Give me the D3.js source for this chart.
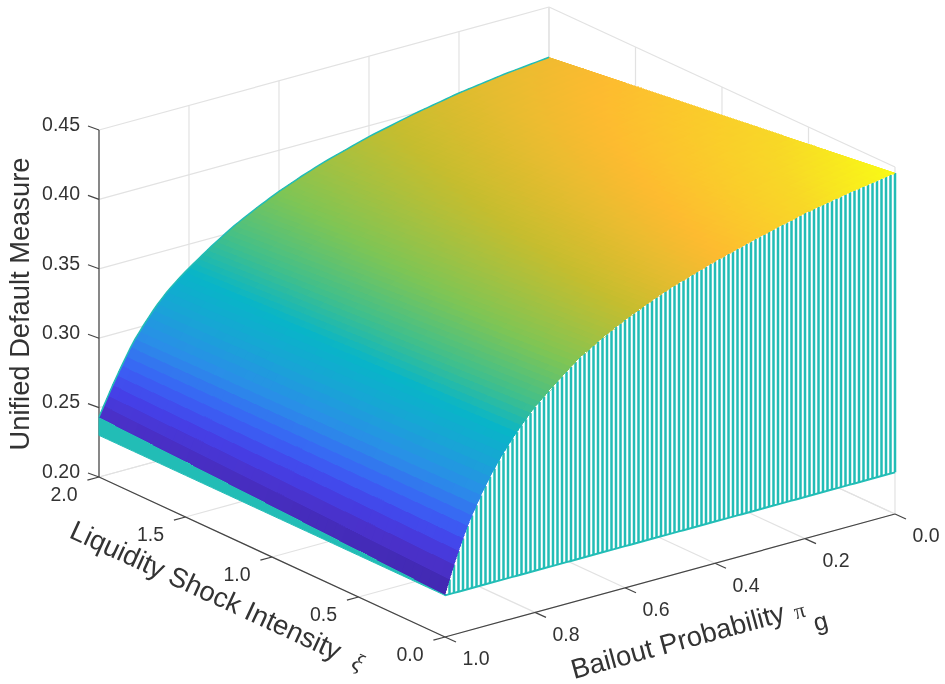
<!DOCTYPE html>
<html>
<head>
<meta charset="utf-8">
<script src="https://cdn.jsdelivr.net/npm/d3@7"></script>
<style>
  html, body { margin: 0; background: #fff; }
  svg { filter: blur(0.4px); }
  text { font-family: "Liberation Sans", Arial, sans-serif; fill: #333; }
</style>
</head>
<body>
<div id="chart"></div>
<script>
// tick labels
var piTicks = [0.0, 0.2, 0.4, 0.6, 0.8, 1.0];
var xiTicks = [0.0, 0.5, 1.0, 1.5, 2.0];
var zTicks = [0.20, 0.25, 0.30, 0.35, 0.40, 0.45];

// surface edges
var piKnots = [1.0, 0.99, 0.98, 0.97, 0.95, 0.925, 0.90, 0.875, 0.85, 0.825, 0.80, 0.75, 0.70, 0.65, 0.60, 0.55, 0.50, 0.40, 0.30, 0.20, 0.10, 0.0];
var zAtXi0 = [0.2305, 0.2405, 0.2501, 0.2592, 0.2755, 0.2920, 0.3065, 0.3190, 0.3296, 0.3392, 0.3480, 0.3620, 0.3750, 0.3845, 0.3930, 0.4003, 0.4070, 0.4175, 0.4265, 0.4345, 0.4407, 0.4457];
var zAtXi2 = [0.2432, 0.2500, 0.2566, 0.2632, 0.2755, 0.2900, 0.3010, 0.3112, 0.3197, 0.3267, 0.3329, 0.3442, 0.3544, 0.3628, 0.3704, 0.3768, 0.3826, 0.3921, 0.3996, 0.4058, 0.4104, 0.4138];
var curtainBase = 0.23;

// parula-like colormap
var colorStops = [0, 0.075, 0.14, 0.21, 0.30, 0.39, 0.47, 0.55, 0.65, 0.77, 0.875, 0.95, 1];
var colorValues = ['#3e26a8', '#4a30c8', '#4540e8', '#3a62f5', '#2a8ee8', '#18a5d5', '#08b5c8', '#40bf8c', '#7ec555', '#c5bd2f', '#fdbb30', '#f8d827', '#f9fb15'];

var width = 945, height = 684;
var grey = '#e2e2e2', axisColor = '#444', teal = '#22bdb6';
var piSteps = 100, xiSteps = 40;

var svg = d3.select('#chart').append('svg')
    .attr('width', width).attr('height', height);

// oblique projection of the box, front floor corner is xi=0, pi=1
var xiX = d3.scaleLinear().domain([0, 2]).range([0, -346]);
var xiY = d3.scaleLinear().domain([0, 2]).range([0, -160]);
var piX = d3.scaleLinear().domain([1, 0]).range([445, 895]);
var piY = d3.scaleLinear().domain([1, 0]).range([637, 514]);
var zY = d3.scaleLinear().domain([0.20, 0.45]).range([0, -347]);

function project(xi, pi, z) {
    return [piX(pi) + xiX(xi), piY(pi) + xiY(xi) + zY(z)];
}
var line = d3.line();

// surface height
var edge0 = d3.scaleLinear().domain(piKnots).range(zAtXi0);
var edge2 = d3.scaleLinear().domain(piKnots).range(zAtXi2);
function surfaceZ(xi, pi) {
    return d3.scaleLinear().domain([0, 2]).range([edge0(pi), edge2(pi)])(xi);
}
var colorPos = d3.scaleLinear().domain([curtainBase, 0.4457]).range([0, 1]);
var colormap = d3.scaleLinear().domain(colorStops).range(colorValues).clamp(true);

var piGrid = d3.range(piSteps + 1).map(function(i) { return i / piSteps; });
var xiGrid = d3.range(xiSteps + 1).map(function(i) { return 2 * i / xiSteps; });

function seg(g, d, cls, color, w) {
    g.selectAll('path.' + cls).data(d).enter().append('path')
        .attr('class', cls)
        .attr('d', function(p) { return line(p); })
        .attr('fill', 'none').attr('stroke', color).attr('stroke-width', w);
}

// grid on floor and back walls
var grid = svg.append('g');
var gridLines = [];
piTicks.forEach(function(p) {
    gridLines.push([project(0, p, 0.20), project(2, p, 0.20)]);
    gridLines.push([project(2, p, 0.20), project(2, p, 0.45)]);
});
xiTicks.forEach(function(x) {
    gridLines.push([project(x, 1, 0.20), project(x, 0, 0.20)]);
    gridLines.push([project(x, 0, 0.20), project(x, 0, 0.45)]);
});
zTicks.forEach(function(z) {
    gridLines.push([project(2, 1, z), project(2, 0, z)]);
    gridLines.push([project(2, 0, z), project(0, 0, z)]);
});
seg(grid, gridLines, 'grid', grey, 1.2);

// axes and tick marks
var axes = svg.append('g');
var axisLines = [
    [project(2, 1, 0.20), project(2, 1, 0.45)],
    [project(0, 1, 0.20), project(2, 1, 0.20)],
    [project(0, 1, 0.20), project(0, 0, 0.20)]
];
seg(axes, axisLines, 'axis', axisColor, 1.2);

var tickLines = [];
zTicks.forEach(function(z) {
    var p = project(2, 1, z);
    tickLines.push([p, [p[0] - 11, p[1] - 4]]);
});
xiTicks.forEach(function(x) {
    var p = project(x, 1, 0.20);
    tickLines.push([p, [p[0] - 11.6, p[1] + 3.2]]);
});
piTicks.forEach(function(v) {
    var p = project(0, v, 0.20);
    tickLines.push([p, [p[0] + 11, p[1] + 5]]);
});
seg(axes, tickLines, 'tick', axisColor, 1.2);

// tick labels
svg.append('g').selectAll('text').data(zTicks).enter().append('text')
    .attr('x', 80).attr('y', function(d) { return project(2, 1, d)[1] - 6; })
    .attr('dy', '0.35em').attr('text-anchor', 'end')
    .attr('font-size', 19.5).text(function(d) { return d.toFixed(2); });
svg.append('g').selectAll('text').data(xiTicks).enter().append('text')
    .attr('x', function(d) { return project(d, 1, 0.20)[0] - 35; })
    .attr('y', function(d) { return project(d, 1, 0.20)[1] + 17.5; })
    .attr('dy', '0.35em').attr('text-anchor', 'middle')
    .attr('font-size', 19.5).text(function(d) { return d.toFixed(1); });
svg.append('g').selectAll('text').data(piTicks).enter().append('text')
    .attr('x', function(d) { return project(0, d, 0.20)[0] + 31; })
    .attr('y', function(d) { return project(0, d, 0.20)[1] + 21.5; })
    .attr('dy', '0.35em').attr('text-anchor', 'middle')
    .attr('font-size', 19.5).text(function(d) { return d.toFixed(1); });

// curtain along xi=0: white back with one stripe per grid step
var curtain = svg.append('g');
var curtainTop = piGrid.map(function(p) { return project(0, p, surfaceZ(0, p)); });
var curtainBottom = piGrid.map(function(p) { return project(0, p, curtainBase); });
curtain.append('path')
    .attr('d', line(curtainTop.concat(curtainBottom.slice().reverse())) + 'Z')
    .attr('fill', '#fff');
seg(curtain, piGrid.map(function(p) {
    return [project(0, p, surfaceZ(0, p)), project(0, p, curtainBase)];
}), 'stripe', teal, 2.5);
curtain.append('path').attr('d', line(curtainBottom))
    .attr('fill', 'none').attr('stroke', teal).attr('stroke-width', 2);

// curtain along pi=1 looks solid because its lines sit so close
var sideTop = xiGrid.map(function(x) { return project(x, 1, surfaceZ(x, 1)); });
var sideBottom = xiGrid.map(function(x) { return project(x, 1, curtainBase); });
svg.append('path')
    .attr('d', line(sideTop.concat(sideBottom.slice().reverse())) + 'Z')
    .attr('fill', teal).attr('stroke', teal).attr('stroke-width', 1);

// surface cells
var cells = [];
d3.range(piSteps).forEach(function(i) {
    d3.range(xiSteps).forEach(function(j) {
        cells.push({p0: piGrid[i], p1: piGrid[i + 1], x0: xiGrid[j], x1: xiGrid[j + 1]});
    });
});
svg.append('g').attr('shape-rendering', 'crispEdges')
    .selectAll('path').data(cells).enter().append('path')
    .attr('d', function(d) {
        return line([
            project(d.x0, d.p0, surfaceZ(d.x0, d.p0)),
            project(d.x1, d.p0, surfaceZ(d.x1, d.p0)),
            project(d.x1, d.p1, surfaceZ(d.x1, d.p1)),
            project(d.x0, d.p1, surfaceZ(d.x0, d.p1))
        ]) + 'Z';
    })
    .each(function(d) {
        var c = colormap(colorPos(surfaceZ((d.x0 + d.x1) / 2, (d.p0 + d.p1) / 2)));
        d3.select(this).attr('fill', c).attr('stroke', c).attr('stroke-width', 0.6);
    });

// thin mesh edge on the far side
svg.append('path')
    .attr('d', line(piGrid.map(function(p) { return project(2, p, surfaceZ(2, p)); })))
    .attr('fill', 'none').attr('stroke', teal).attr('stroke-width', 1.5);

// axis labels
svg.append('text')
    .attr('transform', 'translate(29,304) rotate(-90)')
    .attr('text-anchor', 'middle').attr('font-size', 27.3)
    .text('Unified Default Measure');

var xiLabel = svg.append('text')
    .attr('transform', 'translate(68,537) rotate(24.8)')
    .attr('font-size', 27.5);
xiLabel.append('tspan').text('Liquidity Shock Intensity ');
xiLabel.append('tspan').style('font-family', '"Liberation Serif", serif')
    .style('font-style', 'italic').attr('font-size', 24).attr('dx', 8).text('ξ');

var piLabel = svg.append('text')
    .attr('transform', 'translate(574,679) rotate(-15.3)')
    .attr('font-size', 27.5);
piLabel.append('tspan').text('Bailout Probability ');
piLabel.append('tspan').style('font-family', '"Liberation Serif", serif')
    .attr('font-size', 22).attr('dx', 2).attr('dy', 1).text('π');
piLabel.append('tspan').attr('dx', 5).attr('dy', 17).attr('font-size', 25).text('g');
</script>
</body>
</html>
